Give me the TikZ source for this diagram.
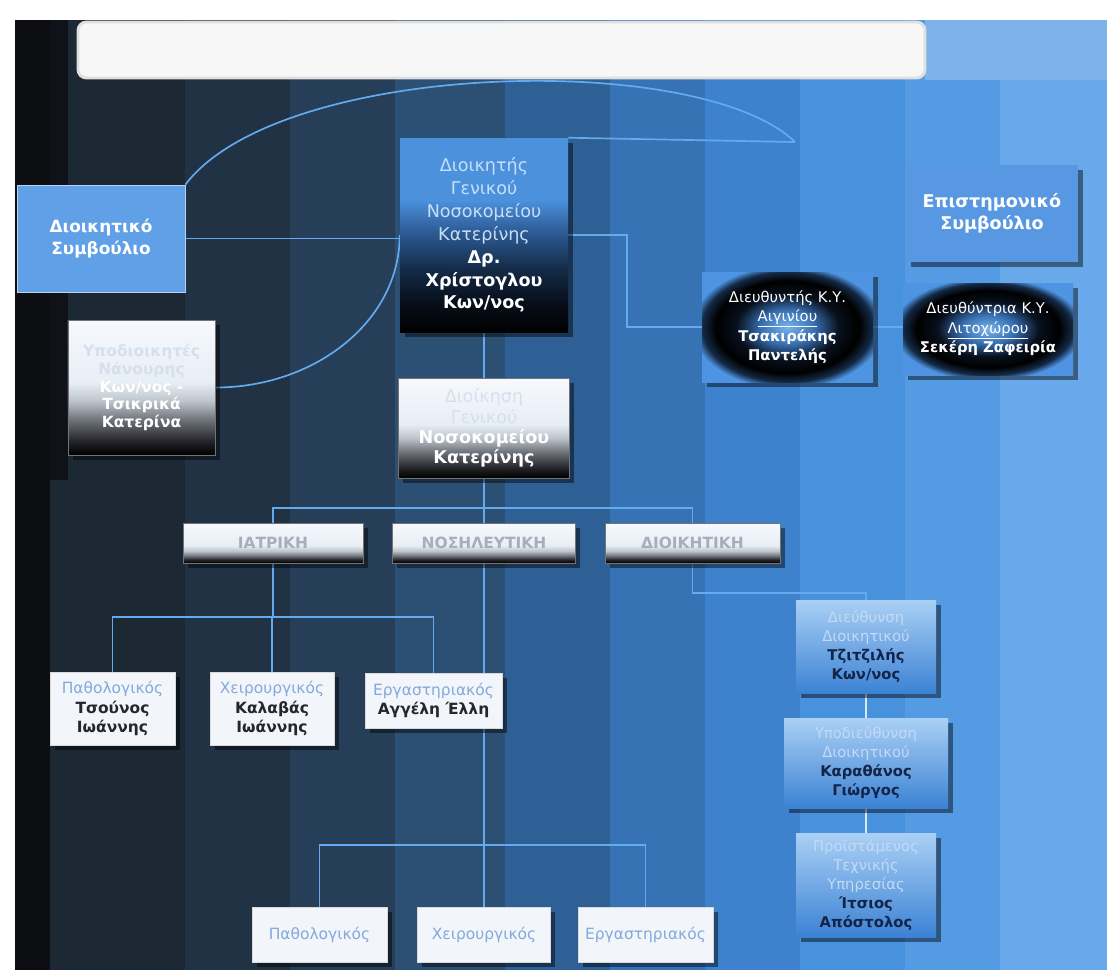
\documentclass[tikz,border=0pt]{standalone}
\usepackage{fontspec}
\setmainfont{DejaVu Sans}
\usetikzlibrary{positioning,calc,shadows}
\definecolor{bandA}{RGB}{12,14,18}
\definecolor{bandB}{RGB}{28,40,52}
\definecolor{bandC}{RGB}{32,50,68}
\definecolor{bandD}{RGB}{38,62,88}
\definecolor{bandE}{RGB}{44,80,115}
\definecolor{bandF}{RGB}{46,96,150}
\definecolor{bandG}{RGB}{55,115,180}
\definecolor{bandH}{RGB}{62,130,205}
\definecolor{bandI}{RGB}{72,145,220}
\definecolor{bandJ}{RGB}{85,155,228}
\definecolor{bandK}{RGB}{105,168,235}
\definecolor{streak}{RGB}{125,178,235}
\definecolor{boardblue}{RGB}{95,160,230}
\definecolor{sciblue}{RGB}{88,152,226}
\definecolor{wireblue}{RGB}{100,170,238}
\definecolor{stafflink}{RGB}{215,232,250}
\definecolor{dirtop}{RGB}{75,145,220}
\definecolor{dirmid}{RGB}{45,92,150}
\definecolor{dirnavy}{RGB}{20,42,70}
\definecolor{dirdeep}{RGB}{8,16,28}
\definecolor{dirtext}{RGB}{200,222,248}
\definecolor{metalA}{RGB}{35,35,40}
\definecolor{metalB}{RGB}{110,115,122}
\definecolor{metalC}{RGB}{190,196,204}
\definecolor{metalD}{RGB}{232,238,246}
\definecolor{metalE}{RGB}{246,249,253}
\definecolor{washed}{RGB}{214,224,236}
\definecolor{bartext}{RGB}{168,174,184}
\definecolor{haloin}{RGB}{120,180,238}
\definecolor{halomid}{RGB}{55,110,175}
\definecolor{boxblue}{RGB}{78,148,226}
\definecolor{wardwhite}{RGB}{242,245,249}
\definecolor{wardlight}{RGB}{130,170,220}
\definecolor{wardtext}{RGB}{38,38,48}
\definecolor{stafftop}{RGB}{170,208,245}
\definecolor{staffbot}{RGB}{60,130,212}
\definecolor{stafftext}{RGB}{195,218,242}
\definecolor{staffname}{RGB}{20,36,72}
\pgfdeclareverticalshading{dirfade}{100bp}{color(0bp)=(black); color(25bp)=(black); color(33bp)=(dirdeep); color(41bp)=(dirnavy); color(51bp)=(dirmid); color(59bp)=(dirtop); color(75bp)=(dirtop); color(100bp)=(dirtop)}
\pgfdeclareverticalshading{metal}{100bp}{color(0bp)=(black); color(25bp)=(black); color(30bp)=(metalA); color(38bp)=(metalB); color(45bp)=(metalC); color(52bp)=(metalD); color(75bp)=(metalE); color(100bp)=(metalE)}
\pgfdeclareverticalshading{barmetal}{100bp}{color(0bp)=(black); color(25bp)=(black); color(29bp)=(metalA); color(34bp)=(metalB); color(40bp)=(metalC); color(47bp)=(metalD); color(75bp)=(metalE); color(100bp)=(metalE)}
\pgfdeclareradialshading{halo}{\pgfpoint{0bp}{0bp}}{color(0bp)=(haloin); color(8bp)=(halomid); color(15bp)=(dirdeep); color(21bp)=(black); color(25bp)=(dirnavy); color(28bp)=(boxblue); color(50bp)=(boxblue)}
\pgfdeclarelayer{bg}
\pgfdeclarelayer{wires}
\pgfsetlayers{bg,wires,main}

\begin{document}
\begin{tikzpicture}[
    x=0.25mm, y=-0.25mm,
    panel/.style={rectangle,inner sep=0pt,align=center,text=white},
    castshadow/.style={drop shadow={shadow xshift=1.2mm,shadow yshift=-1.2mm,opacity=0.45,fill=black}},
    banner/.style={panel,fill=white!94!gray,draw=white!75!gray,line width=2pt,rounded corners=6pt},
    bluebox/.style={panel,fill=boardblue,draw=white!55!boardblue,line width=0.6pt,font=\fontsize{12}{15.5}\selectfont\bfseries},
    scibox/.style={panel,fill=sciblue,castshadow,font=\fontsize{12.5}{16}\selectfont\bfseries},
    headbox/.style={panel,shading=dirfade,castshadow,text=dirtext,font=\fontsize{12.5}{16.3}\selectfont},
    metalbox/.style={panel,shading=metal,draw=black!55,line width=0.4pt,castshadow},
    halobox/.style={panel,shading=halo,castshadow,font=\fontsize{10.5}{13.8}\selectfont},
    branch/.style={metalbox,shading=barmetal,minimum height=10mm,text=bartext,font=\fontsize{11}{13}\selectfont\bfseries},
    ward/.style={panel,fill=wardwhite,draw=white!70!gray,line width=0.4pt,text=wardlight,castshadow,font=\fontsize{11}{14}\selectfont},
    staff/.style={panel,top color=stafftop,bottom color=staffbot,text=stafftext,castshadow,font=\fontsize{10.5}{13.5}\selectfont},
    wire/.style={draw=wireblue,line width=1.2pt}
]
\useasboundingbox (0,0) rectangle (1107,970);

% backdrop
\begin{pgfonlayer}{bg}
\fill[white] (0,0) rectangle (1107,970);
\fill[bandA] (15,20) rectangle (50,970);
\fill[bandA!80!bandB] (50,20) rectangle (68,480);
\fill[bandB] (68,20) rectangle (185,970);
\fill[bandB] (50,480) rectangle (68,970);
\fill[bandC] (185,20) rectangle (290,970);
\fill[bandD] (290,20) rectangle (395,970);
\fill[bandE] (395,20) rectangle (505,970);
\fill[bandF] (505,20) rectangle (610,970);
\fill[bandG] (610,20) rectangle (705,970);
\fill[bandH] (705,20) rectangle (800,970);
\fill[bandI] (800,20) rectangle (905,970);
\fill[bandJ] (905,20) rectangle (1000,970);
\fill[bandK] (1000,20) rectangle (1107,970);
\fill[streak] (925,20) rectangle (1107,80);
\end{pgfonlayer}

% title bar
\node[banner,minimum width=211.75mm,minimum height=14mm] (banner) at (501.5,50) {};

% boards and management
\node[bluebox,minimum width=42mm,minimum height=26.75mm] (dsboard) at (101,238.5) {Διοικητικό\\Συμβούλιο};
\node[headbox,minimum width=42mm,minimum height=48.5mm] (director) at (484,235)
  {Διοικητής\\Γενικού\\Νοσοκομείου\\Κατερίνης\\\textcolor{white}{\textbf{Δρ.}}\\\textcolor{white}{\textbf{Χρίστογλου}}\\\textcolor{white}{\textbf{Κων/νος}}};
\node[metalbox,minimum width=36.75mm,minimum height=33.75mm,font=\fontsize{11}{12.5}\selectfont\bfseries] (deputies) at (141.5,387.5)
  {\textcolor{washed}{Υποδιοικητές}\\\textcolor{washed}{Νάνουρης}\\Κων/νος -\\Τσικρικά\\Κατερίνα};
\node[metalbox,minimum width=42.75mm,minimum height=25mm,font=\fontsize{12.5}{14.5}\selectfont] (hospital) at (484,428)
  {\textcolor{washed}{Διοίκηση}\\\textcolor{washed}{Γενικού}\\\textbf{Νοσοκομείου}\\\textbf{Κατερίνης}};
\node[scibox,minimum width=43mm,minimum height=24.25mm] (sciboard) at (992,213.5) {Επιστημονικό\\Συμβούλιο};

% health centres
\node[halobox,minimum width=42.75mm,minimum height=27.5mm] (aiginio) at (787.5,327)
  {Διευθυντής Κ.Υ.\\\underline{Αιγινίου}\\\textbf{Τσακιράκης}\\\textbf{Παντελής}};
\node[halobox,minimum width=42.5mm,minimum height=23mm] (litochoro) at (988,329)
  {Διευθύντρια Κ.Υ.\\\underline{Λιτοχώρου}\\\textbf{Σεκέρη Ζαφειρία}};

% services
\node[branch,minimum width=45mm] (iatr) at (273,543) {ΙΑΤΡΙΚΗ};
\node[branch,minimum width=45.75mm] (nosil) at (484,543) {ΝΟΣΗΛΕΥΤΙΚΗ};
\node[branch,minimum width=43.75mm] (dioik) at (692.5,543) {ΔΙΟΙΚΗΤΙΚΗ};

% medical service
\node[ward,minimum width=31.25mm,minimum height=18.25mm] (patho1) at (112.5,708.5)
  {Παθολογικός\\\textcolor{wardtext}{\textbf{Τσούνος}}\\\textcolor{wardtext}{\textbf{Ιωάννης}}};
\node[ward,minimum width=31mm,minimum height=18.25mm] (surg1) at (272,708.5)
  {Χειρουργικός\\\textcolor{wardtext}{\textbf{Καλαβάς}}\\\textcolor{wardtext}{\textbf{Ιωάννης}}};
\node[ward,minimum width=34.25mm,minimum height=13.75mm] (lab1) at (433.5,700.5)
  {Εργαστηριακός\\\textcolor{wardtext}{\textbf{Αγγέλη Έλλη}}};

% nursing service
\node[ward,minimum width=33.75mm,minimum height=13.75mm] (patho2) at (319.5,934.5) {Παθολογικός};
\node[ward,minimum width=33.25mm,minimum height=13.75mm] (surg2) at (484,934.5) {Χειρουργικός};
\node[ward,minimum width=33.75mm,minimum height=13.75mm] (lab2) at (645.5,934.5) {Εργαστηριακός};

% administrative service
\node[staff,minimum width=35mm,minimum height=23.25mm] (admin1) at (866,646.5)
  {Διεύθυνση\\Διοικητικού\\\textcolor{staffname}{\textbf{Τζιτζιλής}}\\\textcolor{staffname}{\textbf{Κων/νος}}};
\node[staff,minimum width=41mm,minimum height=22.5mm] (admin2) at (866,763)
  {Υποδιεύθυνση\\Διοικητικού\\\textcolor{staffname}{\textbf{Καραθάνος}}\\\textcolor{staffname}{\textbf{Γιώργος}}};
\node[staff,minimum width=35mm,minimum height=26mm] (admin3) at (866,885)
  {Προϊστάμενος\\Τεχνικής\\Υπηρεσίας\\\textcolor{staffname}{\textbf{Ίτσιος}}\\\textcolor{staffname}{\textbf{Απόστολος}}};

% connectors
\begin{pgfonlayer}{wires}
\coordinate (upper) at (795,142);
\coordinate (bus) at (484,508);
\coordinate (medbus) at (273,617);
\coordinate (nursbus) at (484,845);
\draw[wire] (dsboard.north east) .. controls (280,60) and (700,50) .. (upper);
\draw[wire] (director.north east) -- (upper);
\draw[wire] (dsboard.east) -- (dsboard.east -| director.west);
\draw[wire] (deputies.east) .. controls +(100,0) and +(0,86) .. (director.west);
\draw[wire] (director.east) -- ++(59,0) |- (aiginio.west);
\draw[wire] (aiginio.east) -- (litochoro.west |- aiginio.east);
\draw[wire] (director.south) -- (hospital.north);
\draw[wire] (hospital.south) -- (bus);
\draw[wire] (iatr.center) |- (bus) -| (dioik.center);
\draw[wire] (bus) -- (nosil.center);
\draw[wire] (iatr.center) -- (medbus);
\draw[wire] (patho1) |- (medbus) -| (lab1);
\draw[wire] (surg1) -- (surg1 |- medbus);
\draw[wire] (nosil.center) -- (nursbus);
\draw[wire] (patho2) |- (nursbus) -| (lab2);
\draw[wire] (surg2) -- (surg2 |- nursbus);
\draw[wire] (dioik.center) |- ([yshift=1.75mm]admin1.north) -- (admin1.north);
\draw[wire,draw=stafflink] (admin1) -- (admin2);
\draw[wire,draw=stafflink] (admin2) -- (admin3);
\end{pgfonlayer}
\end{tikzpicture}
\end{document}
